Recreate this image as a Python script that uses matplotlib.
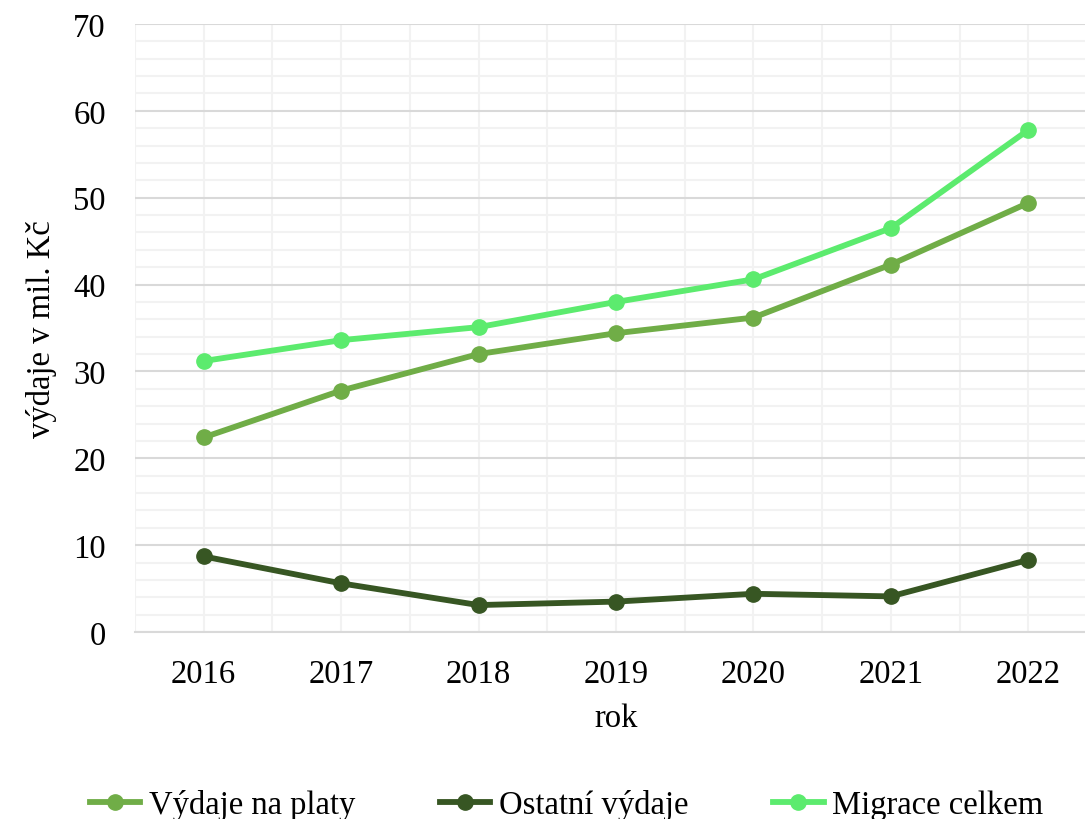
import matplotlib.pyplot as plt
from matplotlib.ticker import MultipleLocator

plt.rcParams['font.family'] = ['Liberation Serif', 'DejaVu Serif']

roky = [2016, 2017, 2018, 2019, 2020, 2021, 2022]
platy = [22.4, 27.8, 32.0, 34.4, 36.2, 42.3, 49.4]
ostatni = [8.7, 5.6, 3.1, 3.5, 4.4, 4.1, 8.3]
migrace = [31.2, 33.6, 35.1, 38.0, 40.6, 46.5, 57.8]

fs = 23.5

fig = plt.figure(figsize=(10.85, 8.2), dpi=100)
# plot area runs slightly past the right edge like the original
ax = fig.add_axes([135/1085, 187/820, (1097-135)/1085, (633-25)/820])

ax.set_xlim(2015.5, 2022.5)
ax.set_ylim(0, 70)
ax.yaxis.set_major_locator(MultipleLocator(10))
ax.yaxis.set_minor_locator(MultipleLocator(2))
ax.xaxis.set_major_locator(MultipleLocator(1))
ax.xaxis.set_minor_locator(MultipleLocator(0.5))

ax.grid(which='minor', axis='both', color='#F2F2F2', lw=1.5, zorder=0)
ax.grid(which='major', axis='x', color='#F2F2F2', lw=1.5, zorder=0)
ax.grid(which='major', axis='y', color='#D9D9D9', lw=1.5, zorder=0)
ax.set_axisbelow(True)

for s in ['top', 'right', 'left']:
    ax.spines[s].set_visible(False)
ax.spines['bottom'].set_color('#D9D9D9')
ax.spines['bottom'].set_linewidth(1.5)

ax.tick_params(which='both', length=0)
ax.tick_params(axis='x', labelsize=fs, pad=19)
ax.tick_params(axis='y', labelsize=fs, pad=21)

ax.plot(roky, platy, color='#70AD47', lw=4.2, marker='o', ms=11, label='Výdaje na platy')
ax.plot(roky, ostatni, color='#375623', lw=4.2, marker='o', ms=11, label='Ostatní výdaje')
ax.plot(roky, migrace, color='#5CEB6E', lw=4.2, marker='o', ms=11, label='Migrace celkem')

ax.set_xlabel('rok', fontsize=fs, labelpad=10)
ax.set_ylabel('výdaje v mil. Kč', fontsize=fs, labelpad=12)

fig.legend(loc='lower center', bbox_to_anchor=(0.522, -0.037), ncol=3, frameon=False,
           fontsize=fs, handlelength=1.55, handletextpad=0.25, columnspacing=2.6)

fig.savefig('out.png', dpi=100)
